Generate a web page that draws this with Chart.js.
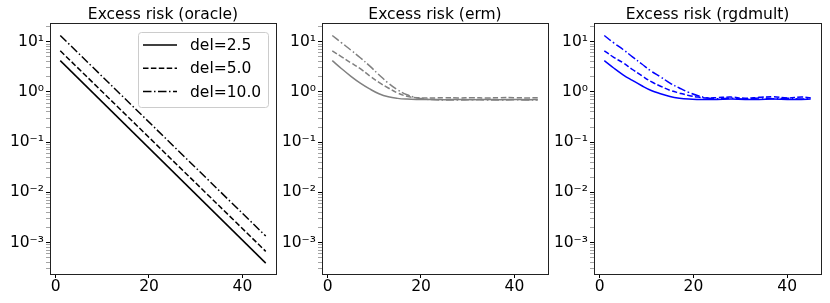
<!DOCTYPE html>
<html>
<head>
<meta charset="utf-8">
<script src="https://cdn.jsdelivr.net/npm/chart.js@4"></script>
<style>
  body { margin: 0; background: #fff; }
  #wrap { position: relative; width: 830px; height: 303px; background: #fff; }
  canvas { position: absolute; top: 0; }
</style>
</head>
<body>
<div id="wrap">
  <canvas id="p1" width="280" height="303" style="left:0px"></canvas>
  <canvas id="p2" width="280" height="303" style="left:272px"></canvas>
  <canvas id="p3" width="286" height="303" style="left:544px"></canvas>
</div>
<script>
// data
const oracleIters = [1, 45];
const iters = [1, 3, 5, 7, 9, 11, 13, 15, 17, 19, 21, 23, 25, 28, 31, 34, 37, 40, 43, 45];

const oracleDel25 = [4.2, 3.9e-4];
const oracleDel50 = [6.6, 6.7e-4];
const oracleDel100 = [13.3, 1.35e-3];

const ermDel25 = [4.2, 2.9, 2.05, 1.5, 1.15, 0.92, 0.8, 0.745, 0.72, 0.71, 0.71, 0.71, 0.70, 0.71, 0.70, 0.71, 0.70, 0.71, 0.70, 0.71];
const ermDel50 = [6.6, 5.0, 3.8, 2.9, 2.1, 1.55, 1.2, 0.95, 0.82, 0.77, 0.76, 0.76, 0.77, 0.76, 0.77, 0.76, 0.77, 0.77, 0.76, 0.77];
const ermDel100 = [13.3, 9.5, 6.8, 4.8, 3.3, 2.2, 1.5, 1.1, 0.88, 0.77, 0.72, 0.70, 0.69, 0.69, 0.70, 0.69, 0.69, 0.70, 0.69, 0.69];

const rgdDel25 = [4.2, 3.0, 2.2, 1.7, 1.33, 1.07, 0.92, 0.81, 0.75, 0.72, 0.71, 0.71, 0.71, 0.72, 0.71, 0.71, 0.72, 0.71, 0.71, 0.72];
const rgdDel50 = [6.6, 4.9, 3.8, 2.8, 2.1, 1.6, 1.3, 1.08, 0.95, 0.85, 0.79, 0.76, 0.77, 0.79, 0.75, 0.78, 0.80, 0.76, 0.79, 0.77];
const rgdDel100 = [13.3, 9.5, 7.0, 5.0, 3.6, 2.6, 2.0, 1.5, 1.2, 0.98, 0.84, 0.76, 0.73, 0.75, 0.72, 0.76, 0.73, 0.75, 0.72, 0.74];

const legendLabels = ['del=2.5', 'del=5.0', 'del=10.0'];
const titles = ['Excess risk (oracle)', 'Excess risk (erm)', 'Excess risk (rgdmult)'];

const xTicks = [0, 20, 40];
const yMajorTicks = [1e-3, 1e-2, 1e-1, 1, 10];
const yTickLabels = ['10\u207B\u00B3', '10\u207B\u00B2', '10\u207B\u00B9', '10\u2070', '10\u00B9'];

const X_MIN = -1.2, X_MAX = 47.2;
const Y_MIN = Math.pow(10, -3.625), Y_MAX = Math.pow(10, 1.373);

const dashes = [[], [5.5, 2.4], [8.5, 2.5, 1.5, 2.5]];
const FONT = 'DejaVu Sans';

Chart.defaults.font.family = FONT;
Chart.defaults.font.size = 15;
Chart.defaults.color = '#000';

function toPoints(xs, ys) {
    return xs.map((x, i) => ({ x: x, y: ys[i] }));
}

// minor log ticks 2..9 in every decade inside the range
function logTicks() {
    const ticks = [];
    for (let e = -4; e <= 1; e++) {
        for (let m = 1; m <= 9; m++) {
            const v = m * Math.pow(10, e);
            if (v >= Y_MIN && v <= Y_MAX) ticks.push({ value: v, major: m === 1 });
        }
    }
    return ticks;
}

const framePlugin = {
    id: 'frame',
    afterDraw(chart, args, opts) {
        const { ctx, chartArea: a } = chart;
        ctx.save();
        ctx.strokeStyle = '#222';
        ctx.lineWidth = 1;
        ctx.strokeRect(Math.round(a.left) + 0.5, Math.round(a.top) + 0.5,
            Math.round(a.right - a.left), Math.round(a.bottom - a.top));
        ctx.fillStyle = '#000';
        ctx.font = '15.5px ' + FONT;
        ctx.textAlign = 'center';
        ctx.textBaseline = 'alphabetic';
        ctx.fillText(opts.title, (a.left + a.right) / 2, 18.5);

        if (opts.legend) {
            const bx = a.right - 138, by = a.top + 9, bw = 130, bh = 75;
            ctx.beginPath();
            ctx.roundRect(bx + 0.5, by + 0.5, bw, bh, 3);
            ctx.fillStyle = 'rgba(255,255,255,0.8)';
            ctx.fill();
            ctx.strokeStyle = '#cccccc';
            ctx.stroke();
            chart.data.datasets.forEach((ds, i) => {
                const y = by + 13 + i * 23.3;
                ctx.beginPath();
                ctx.setLineDash(ds.borderDash);
                ctx.strokeStyle = ds.borderColor;
                ctx.lineWidth = ds.borderWidth;
                ctx.moveTo(bx + 5, y);
                ctx.lineTo(bx + 39, y);
                ctx.stroke();
                ctx.setLineDash([]);
                ctx.fillStyle = '#000';
                ctx.font = '15.5px ' + FONT;
                ctx.textAlign = 'left';
                ctx.textBaseline = 'middle';
                ctx.fillText(ds.label, bx + 52, y + 1);
            });
        }
        ctx.restore();
    }
};

function makePanel(id, title, color, xs, series, rightPad, legend) {
    const datasets = series.map((ys, i) => ({
        label: legendLabels[i],
        data: toPoints(xs, ys),
        borderColor: color,
        borderWidth: 1.5,
        borderDash: dashes[i],
        pointRadius: 0,
        fill: false,
        tension: 0.4
    }));

    return new Chart(document.getElementById(id), {
        type: 'line',
        data: { datasets: datasets },
        plugins: [framePlugin],
        options: {
            responsive: false,
            animation: false,
            layout: { padding: { top: 23, right: rightPad, left: 0, bottom: 0 } },
            plugins: {
                legend: { display: false },
                tooltip: { enabled: false },
                frame: { title: title, legend: legend }
            },
            scales: {
                x: {
                    type: 'linear',
                    min: X_MIN,
                    max: X_MAX,
                    afterBuildTicks: (scale) => { scale.ticks = xTicks.map(v => ({ value: v })); },
                    afterFit: (scale) => { scale.height = 29; },
                    grid: { display: true, drawOnChartArea: false, drawTicks: true, tickLength: 4, tickColor: '#000', tickWidth: 1 },
                    border: { display: false },
                    ticks: { padding: 0, autoSkip: false, maxRotation: 0, font: { size: 15.5 } }
                },
                y: {
                    type: 'logarithmic',
                    min: Y_MIN,
                    max: Y_MAX,
                    afterBuildTicks: (scale) => { scale.ticks = logTicks(); },
                    afterFit: (scale) => { scale.width = 50; },
                    grid: {
                        display: true, drawOnChartArea: false, drawTicks: true, tickLength: 4,
                        tickColor: (c) => (c.tick && c.tick.major) ? '#000' : '#666',
                        tickWidth: (c) => (c.tick && c.tick.major) ? 1 : 0.6
                    },
                    border: { display: false },
                    ticks: {
                        padding: 2,
                        autoSkip: false,
                        font: { size: 15.5 },
                        callback: (value) => {
                            const k = yMajorTicks.findIndex(m => Math.abs(m - value) / m < 1e-6);
                            return k >= 0 ? yTickLabels[k] : '';
                        }
                    }
                }
            }
        }
    });
}

makePanel('p1', titles[0], '#000000', oracleIters, [oracleDel25, oracleDel50, oracleDel100], 4, true);
makePanel('p2', titles[1], '#808080', iters, [ermDel25, ermDel50, ermDel100], 4, false);
makePanel('p3', titles[2], '#0000ff', iters, [rgdDel25, rgdDel50, rgdDel100], 9, false);
</script>
</body>
</html>
